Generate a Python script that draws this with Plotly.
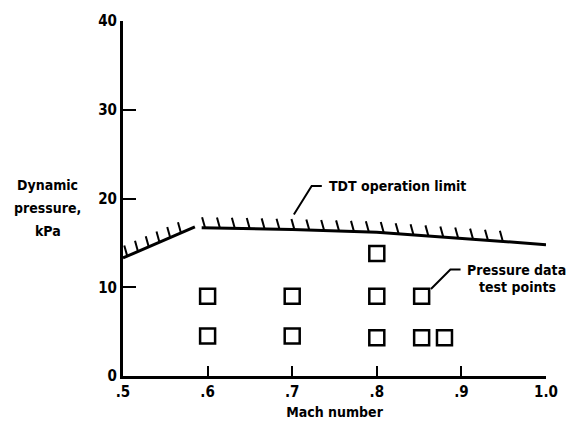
import numpy as np
import plotly.graph_objects as go

# Tunnel operating boundary (Mach number vs dynamic pressure, kPa)
limit_low_mach = [0.50, 0.585]
limit_low_q = [13.3, 16.8]
limit_high_mach = [0.593, 0.70, 0.80, 0.90, 1.00]
limit_high_q = [16.7, 16.5, 16.2, 15.5, 14.8]

# Pressure data test points
test_mach = [0.60, 0.60, 0.70, 0.70, 0.80, 0.80, 0.80, 0.853, 0.853, 0.88]
test_q = [9.0, 4.5, 9.0, 4.5, 13.8, 9.0, 4.3, 9.0, 4.3, 4.3]

x_ticks = [0.5, 0.6, 0.7, 0.8, 0.9, 1.0]
x_tick_text = [".5", ".6", ".7", ".8", ".9", "1.0"]
y_ticks = [0, 10, 20, 30, 40]
y_tick_text = ["0", "10", "20", "30", "40"]
y_title_lines = ["Dynamic", "pressure,", "kPa"]

FONT = "DejaVu Sans Condensed, Liberation Sans Narrow, sans-serif"
TEXT = dict(family=FONT, size=14, color="black", weight="bold")

fig = go.Figure()


def hatch_segments(mach, q, start, stop, step):
    """Short slanted strokes standing on the limit line."""
    xs, ys = [], []
    for m in np.arange(start, stop + 1e-9, step):
        y0 = float(np.interp(m, mach, q))
        xs += [m - 0.0035, m, None]
        ys += [y0 + 1.2, y0, None]
    return xs, ys


for mach, q, start, stop, step in [
    (limit_low_mach, limit_low_q, 0.505, 0.581, 0.0127),
    (limit_high_mach, limit_high_q, 0.597, 0.957, 0.0176),
]:
    fig.add_trace(go.Scatter(x=mach, y=q, mode="lines",
                             line=dict(color="black", width=3),
                             showlegend=False, hoverinfo="skip"))
    hx, hy = hatch_segments(mach, q, start, stop, step)
    fig.add_trace(go.Scatter(x=hx, y=hy, mode="lines",
                             line=dict(color="black", width=2),
                             showlegend=False, hoverinfo="skip"))

fig.add_trace(go.Scatter(
    x=test_mach, y=test_q, mode="markers",
    marker=dict(symbol="square-open", size=15, color="black",
                line=dict(width=2.5, color="black")),
    showlegend=False, hoverinfo="skip"))

# Leader lines for the callouts
fig.add_trace(go.Scatter(
    x=[0.702, 0.723, 0.735, None, 0.864, 0.887, 0.899],
    y=[18.2, 21.4, 21.4, None, 9.8, 12.0, 12.0],
    mode="lines", line=dict(color="black", width=2),
    showlegend=False, hoverinfo="skip"))

fig.add_annotation(x=0.741, y=21.4, text="TDT operation limit",
                   showarrow=False, xanchor="left", yanchor="middle", font=TEXT)
fig.add_annotation(x=0.904, y=12.0, text="Pressure data",
                   showarrow=False, xanchor="left", yanchor="middle", font=TEXT)
fig.add_annotation(x=0.919, y=10.0, text="test points",
                   showarrow=False, xanchor="left", yanchor="middle", font=TEXT)

# Stacked y-axis caption, one line per annotation for looser leading
for line_text, y_pos in zip(y_title_lines, [21.5, 18.9, 16.3]):
    fig.add_annotation(x=-0.178, xref="paper", y=y_pos, text=line_text,
                       showarrow=False, xanchor="center", yanchor="middle",
                       font=TEXT)

fig.update_layout(
    width=570, height=431,
    margin=dict(l=123, r=22, t=16, b=54),
    paper_bgcolor="white", plot_bgcolor="white",
    font=TEXT,
    xaxis=dict(range=[0.5, 1.0], tickvals=x_ticks, ticktext=x_tick_text,
               ticks="inside", ticklen=10, tickwidth=2, tickcolor="black",
               showline=True, linecolor="black", linewidth=3,
               showgrid=False, zeroline=False, tickfont=dict(TEXT, size=15),
               title=dict(text="Mach number", standoff=8, font=TEXT)),
    yaxis=dict(range=[0, 40], tickvals=y_ticks, ticktext=y_tick_text,
               ticks="inside", ticklen=13, tickwidth=2, tickcolor="black",
               showline=True, linecolor="black", linewidth=3,
               showgrid=False, zeroline=False, tickfont=dict(TEXT, size=15)),
)

fig.write_html("out.html")
